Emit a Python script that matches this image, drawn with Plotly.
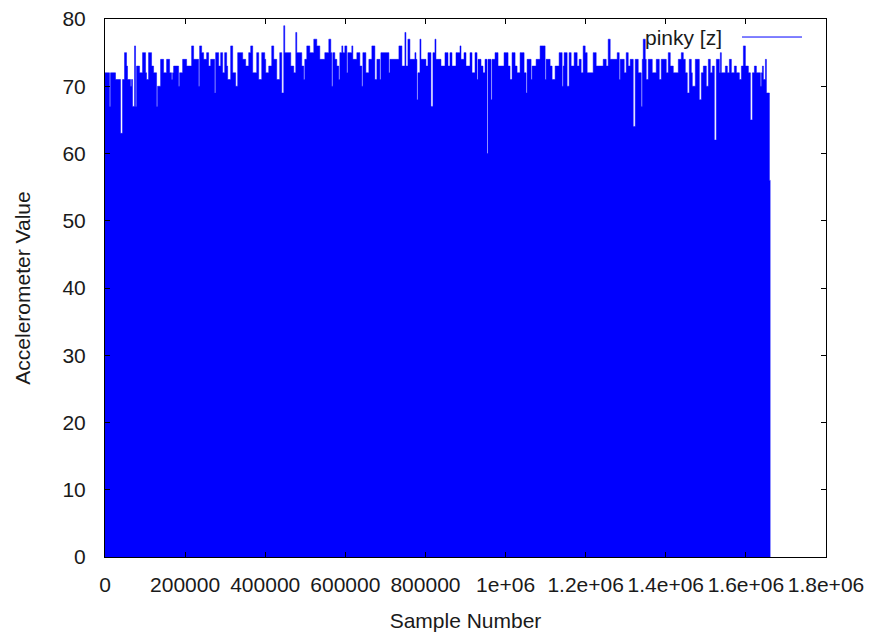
import plotly.graph_objects as go

# Accelerometer z-axis readings for the "pinky" sensor, stored as a stepped
# envelope: each entry is the sample number where a run starts and its value.
sample_start = [
    0, 11250, 13750, 26250, 38750, 43750, 48750, 53750, 56250, 63750,
    66250, 68750, 73750, 76250, 78750, 86250, 93750, 101250, 103750, 108750,
    116250, 121250, 128750, 131250, 138750, 146250, 153750, 161250, 166250, 168750,
    171250, 183750, 186250, 193750, 203750, 216250, 221250, 233750, 236250, 241250,
    246250, 253750, 258750, 263750, 273750, 276250, 283750, 288750, 293750, 298750,
    303750, 306250, 313750, 318750, 326250, 331250, 343750, 351250, 358750, 363750,
    368750, 378750, 383750, 391250, 398750, 401250, 408750, 416250, 421250, 428750,
    436250, 441250, 446250, 448750, 463750, 471250, 476250, 478750, 491250, 496250,
    498750, 503750, 511250, 521250, 528750, 536250, 548750, 558750, 563750, 566250,
    568750, 573750, 578750, 583750, 586250, 591250, 593750, 598750, 603750, 606250,
    616250, 618750, 628750, 636250, 641250, 643750, 651250, 658750, 666250, 673750,
    678750, 686250, 688750, 708750, 711250, 733750, 741250, 748750, 751250, 756250,
    761250, 773750, 776250, 778750, 781250, 786250, 788750, 801250, 806250, 813750,
    818750, 823750, 826250, 838750, 848750, 856250, 861250, 866250, 876250, 886250,
    888750, 896250, 901250, 911250, 916250, 923750, 928750, 931250, 938750, 943750,
    948750, 953750, 956250, 963750, 966250, 973750, 981250, 996250, 1006250, 1011250,
    1016250, 1023750, 1028750, 1036250, 1046250, 1051250, 1053750, 1063750, 1066250, 1076250,
    1086250, 1093750, 1098750, 1101250, 1111250, 1116250, 1123750, 1133750, 1141250, 1143750,
    1146250, 1153750, 1158750, 1163750, 1171250, 1178750, 1183750, 1188750, 1193750, 1198750,
    1203750, 1218750, 1226250, 1243750, 1251250, 1256250, 1261250, 1278750, 1283750, 1286250,
    1296250, 1301250, 1306250, 1311250, 1318750, 1323750, 1331250, 1338750, 1341250, 1343750,
    1348750, 1351250, 1356250, 1366250, 1376250, 1383750, 1388750, 1401250, 1406250, 1411250,
    1418750, 1431250, 1438750, 1443750, 1448750, 1453750, 1458750, 1463750, 1466250, 1473750,
    1483750, 1488750, 1493750, 1501250, 1506250, 1511250, 1516250, 1521250, 1526250, 1533750,
    1536250, 1538750, 1548750, 1553750, 1558750, 1563750, 1571250, 1576250, 1583750, 1588750,
    1593750, 1598750, 1606250, 1611250, 1616250, 1621250, 1626250, 1636250, 1638750, 1641250,
    1643750, 1648750, 1651250, 1658750,
]
z_value = [
    72, 67, 72, 71, 63, 71, 75, 73, 71, 70,
    71, 67, 76, 67, 73, 72, 75, 72, 71, 75,
    73, 72, 67, 70, 74, 72, 74, 72, 71, 72,
    73, 70, 72, 74, 73, 76, 74, 70, 76, 75,
    74, 75, 73, 74, 69, 75, 73, 75, 72, 75,
    73, 71, 76, 72, 70, 75, 74, 73, 75, 76,
    72, 75, 71, 75, 74, 72, 73, 76, 74, 71,
    75, 69, 79, 75, 73, 72, 78, 75, 73, 71,
    74, 76, 75, 77, 76, 74, 75, 77, 75, 70,
    75, 74, 73, 71, 75, 76, 75, 76, 72, 75,
    76, 74, 75, 73, 70, 75, 72, 74, 76, 71,
    74, 71, 75, 72, 74, 76, 73, 78, 73, 77,
    74, 75, 74, 68, 72, 77, 74, 73, 75, 67,
    75, 77, 74, 73, 75, 73, 75, 73, 75, 76,
    74, 75, 73, 75, 72, 75, 71, 74, 73, 72,
    74, 60, 74, 68, 74, 75, 73, 75, 73, 71,
    75, 73, 72, 75, 72, 69, 74, 71, 73, 74,
    76, 76, 71, 74, 73, 71, 73, 75, 70, 73,
    75, 70, 75, 73, 75, 73, 74, 72, 76, 75,
    72, 75, 73, 74, 73, 77, 74, 75, 71, 74,
    72, 75, 73, 74, 64, 74, 72, 67, 74, 77,
    74, 71, 74, 72, 74, 71, 74, 72, 75, 73,
    72, 74, 75, 74, 72, 69, 74, 72, 70, 74,
    68, 72, 73, 70, 74, 72, 73, 62, 74, 72,
    75, 72, 73, 72, 74, 72, 73, 72, 71, 73,
    76, 73, 72, 65, 72, 73, 72, 70, 72, 73,
    71, 74, 69, 56,
]
last_sample = 1661250

x_ticks = [0, 200000, 400000, 600000, 800000, 1000000, 1200000, 1400000, 1600000, 1800000]
x_tick_text = ["0", "200000", "400000", "600000", "800000", "1e+06",
               "1.2e+06", "1.4e+06", "1.6e+06", "1.8e+06"]
y_ticks = [0, 10, 20, 30, 40, 50, 60, 70, 80]

BLUE = "#0000ff"
TEXT = "#1a1a1a"
FONT = "Liberation Sans, Arial, sans-serif"
FS = 21

xs = sample_start + [last_sample]
ys = z_value + [z_value[-1]]

fig = go.Figure()
fig.add_trace(go.Scatter(
    x=xs, y=ys, mode="lines", line_shape="hv",
    line=dict(color=BLUE, width=0.5),
    fill="tozeroy", fillcolor=BLUE,
    name="pinky [z]", showlegend=False, hoverinfo="skip",
))

axis_common = dict(
    showline=True, linecolor="#000000", linewidth=1, mirror="ticks",
    ticks="inside", ticklen=5, tickcolor="#000000", tickwidth=1,
    showgrid=False, zeroline=False, automargin=False,
    tickfont=dict(family=FONT, size=FS, color=TEXT),
    layer="above traces",
)

fig.update_xaxes(
    range=[0, 1800000], tickvals=x_ticks, ticktext=x_tick_text,
    ticklabelstandoff=9,
    title=dict(text="Sample Number", font=dict(family=FONT, size=FS, color=TEXT), standoff=18),
    **axis_common,
)
fig.update_yaxes(
    range=[0, 80], tickvals=y_ticks,
    ticklabelstandoff=14,
    title=dict(text="Accelerometer Value", font=dict(family=FONT, size=FS, color=TEXT), standoff=26),
    **axis_common,
)

# Key in the upper-right corner: label to the left of a short line sample
fig.add_annotation(
    x=0.8585, y=0.9665, xref="paper", yref="paper",
    text="pinky [z]", showarrow=False, xanchor="right", yanchor="middle",
    font=dict(family=FONT, size=FS, color=TEXT),
)
fig.add_shape(
    type="line", xref="paper", yref="paper",
    x0=0.8835, x1=0.9667, y0=0.9665, y1=0.9665,
    line=dict(color=BLUE, width=1),
)

fig.update_layout(
    width=875, height=637,
    margin=dict(l=105, r=49, t=19, b=80),
    paper_bgcolor="#ffffff", plot_bgcolor="#ffffff",
    font=dict(family=FONT, size=FS, color=TEXT),
    showlegend=False,
)

fig.write_html("out.html")
